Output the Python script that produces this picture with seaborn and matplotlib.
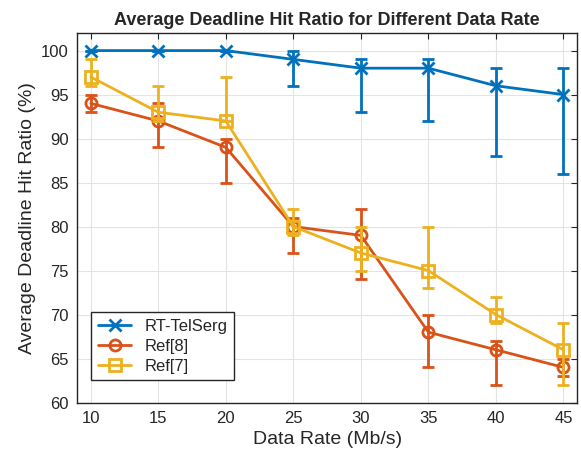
import numpy as np
import pandas as pd
import seaborn as sns
import matplotlib.pyplot as plt

# Data
rates = [10, 15, 20, 25, 30, 35, 40, 45]
rt_telserg = [100, 100, 100, 99, 98, 98, 96, 95]
rt_low = [100, 100, 100, 96, 93, 92, 88, 86]
rt_high = [100, 100, 100, 100, 99, 99, 98, 98]
ref8 = [94, 92, 89, 80, 79, 68, 66, 64]
ref8_low = [93, 89, 85, 77, 74, 64, 62, 63]
ref8_high = [95, 94, 90, 81, 82, 70, 67, 65]
ref7 = [97, 93, 92, 80, 77, 75, 70, 66]
ref7_low = [96, 92, 92, 79, 75, 73, 69, 62]
ref7_high = [99, 96, 97, 82, 80, 80, 72, 69]

series = [
    ('RT-TelSerg', rt_telserg, rt_low, rt_high, '#0072BD', 'x'),
    ('Ref[8]', ref8, ref8_low, ref8_high, '#D95319', 'o'),
    ('Ref[7]', ref7, ref7_low, ref7_high, '#EDB120', 's'),
]

sns.set_style('whitegrid')
plt.rcParams['font.family'] = ['Liberation Sans', 'DejaVu Sans']

fig, ax = plt.subplots(figsize=(5.81, 4.58), dpi=100)
fig.subplots_adjust(left=0.133, right=0.993, top=0.928, bottom=0.121)

for name, vals, low, high, color, marker in series:
    vals = np.array(vals)
    yerr = [vals - np.array(low), np.array(high) - vals]
    ax.errorbar(rates, vals, yerr=yerr, fmt='none', ecolor=color,
                elinewidth=2, capsize=4, capthick=2)
    df = pd.DataFrame({'rate': rates, 'val': vals})
    sns.lineplot(data=df, x='rate', y='val', ax=ax, color=color, marker=marker,
                 markersize=8, markerfacecolor='none', markeredgecolor=color,
                 markeredgewidth=2, linewidth=2, label=name)

ax.set_xlim(9, 46)
ax.set_ylim(60, 102)
ax.set_xticks(rates)
ax.set_yticks(range(60, 101, 5))
ax.tick_params(labelsize=12, direction='in', length=4, colors='#262626',
               top=True, right=True, labeltop=False, labelright=False, pad=6)
ax.grid(True, color='#e3e3e3', linewidth=0.8)
for s in ax.spines.values():
    s.set_color('#262626')
    s.set_linewidth(1)

ax.set_xlabel('Data Rate (Mb/s)', fontsize=14, color='#262626')
ax.set_ylabel('Average Deadline Hit Ratio (%)', fontsize=14, color='#262626')
ax.set_title('Average Deadline Hit Ratio for Different Data Rate',
             fontsize=13, fontweight='bold')

leg = ax.legend(loc='lower left', bbox_to_anchor=(0.028, 0.06), borderaxespad=0,
                fontsize=12, fancybox=False, framealpha=1, edgecolor='#262626',
                handlelength=2.0, borderpad=0.4, labelspacing=0.3)
leg.get_frame().set_linewidth(1)

fig.savefig('out.png', dpi=100)
